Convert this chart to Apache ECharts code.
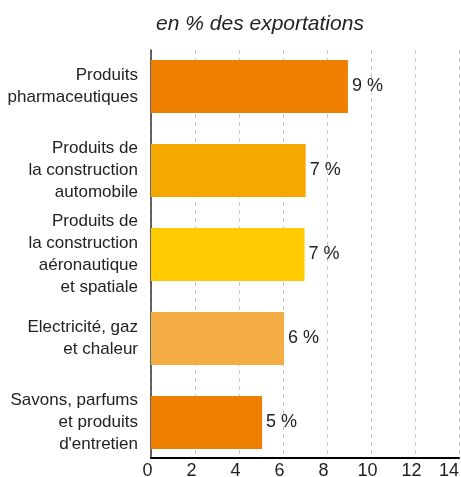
<!DOCTYPE html>
<html>
<head>
<meta charset="utf-8">
<script src="https://cdn.jsdelivr.net/npm/echarts@6/dist/echarts.min.js"></script>
<style>html,body{margin:0;padding:0;background:#fff}#c{width:461px;height:477px}</style>
</head>
<body>
<div id="c"></div>
<script>
const categories = [
  "Produits\npharmaceutiques",
  "Produits de\nla construction\nautomobile",
  "Produits de\nla construction\naéronautique\net spatiale",
  "Electricité, gaz\net chaleur",
  "Savons, parfums\net produits\nd'entretien"
];
const values = [8.95, 7.03, 6.98, 6.05, 5.05];
const barColors = ["#EE7F00", "#F5A800", "#FFCB00", "#F4AC45", "#EE7F00"];
const xTicks = [0, 2, 4, 6, 8, 10, 12, 14];
const titleText = "en % des exportations";

const FONT = "'Liberation Sans', Arial, sans-serif";
const xMax = xTicks[xTicks.length - 1];
const chart = echarts.init(document.getElementById('c'), null, {renderer: 'canvas'});
chart.setOption({
  animation: false,
  title: {
    text: titleText, left: 255, top: 9, textAlign: 'center',
    textStyle: {fontFamily: FONT, fontStyle: 'italic', fontWeight: 'normal', fontSize: 21, color: '#222'}
  },
  grid: [
    {left: 151, top: 44.5, width: 308, height: 420, containLabel: false, outerBoundsMode: 'none'},
    {left: 151, top: 50, width: 308, height: 408, containLabel: false, outerBoundsMode: 'none'}
  ],
  xAxis: [
    {gridIndex: 0, type: 'value', min: xTicks[0], max: xMax, show: false},
    {gridIndex: 1, type: 'value', min: xTicks[0], max: xMax, interval: 2,
      axisLine: {show: true, lineStyle: {color: '#000', width: 2}},
      axisTick: {show: false},
      axisLabel: {margin: 4, fontFamily: FONT, fontSize: 18, color: '#222', alignMaxLabel: 'right',
        formatter: v => v === xMax ? '{e|' + v + '}' : '{n|' + v + '}',
        rich: {n: {fontFamily: FONT, fontSize: 18, color: '#222', padding: [0, 7, 0, 0]},
               e: {fontFamily: FONT, fontSize: 18, color: '#222', padding: [0, 0, 0, 0]}}
      },
      splitLine: {show: true, lineStyle: {type: [4, 4], color: '#c8c8c8', width: 1}}
    }
  ],
  yAxis: [
    {gridIndex: 0, type: 'category', inverse: true, data: categories,
      axisLine: {show: false}, axisTick: {show: false},
      axisLabel: {margin: 13, fontFamily: FONT, fontSize: 17, lineHeight: 22, color: '#222', align: 'right'}
    },
    {gridIndex: 1, type: 'category', inverse: true, data: categories,
      axisLine: {show: true, lineStyle: {color: '#333', width: 1.5}}, axisTick: {show: false},
      axisLabel: {show: false}, splitLine: {show: false}
    }
  ],
  series: [{
    type: 'bar', xAxisIndex: 0, yAxisIndex: 0,
    data: values.map((v, i) => ({value: v, itemStyle: {color: barColors[i]}})),
    barWidth: 53,
    label: {show: true, position: 'right', distance: 4, fontFamily: FONT, fontSize: 18, color: '#222',
      formatter: p => Math.round(p.value) + ' %'}
  }]
});
</script>
</body>
</html>
